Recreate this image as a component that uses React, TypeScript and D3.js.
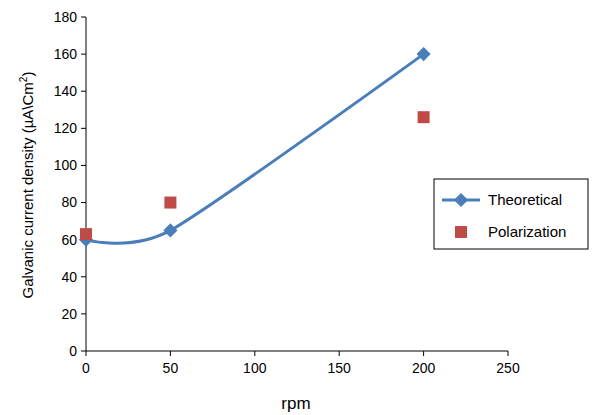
import * as d3 from "d3"

const rpm = [0, 50, 200]
const theoretical = [60, 65, 160]
const polarization = [63, 80, 126]
const xTicks = [0, 50, 100, 150, 200, 250]
const yTicks = [0, 20, 40, 60, 80, 100, 120, 140, 160, 180]

export default function App() {
  const W = 597, H = 415
  const x = d3.scaleLinear().domain([0, 250]).range([86, 508])
  const y = d3.scaleLinear().domain([0, 180]).range([351, 17])
  const line = d3
    .line<number>()
    .x((_, i) => x(rpm[i]))
    .y((d) => y(d))
    .curve(d3.curveCardinal.tension(0.3))
  const blue = "#4a7ebb"
  const red = "#be4b48"
  const font = "Liberation Sans, Arial, sans-serif"
  return (
    <svg width={W} height={H} style={{ position: "absolute", left: 0, top: 0 }} fontFamily={font}>
      <rect width={W} height={H} fill="white" />
      <line x1={x(0)} x2={x(0)} y1={y(0)} y2={y(180)} stroke="#000" />
      <line x1={x(0)} x2={x(250)} y1={y(0)} y2={y(0)} stroke="#000" />
      {yTicks.map((t) => (
        <g key={t}>
          <line x1={x(0) - 5} x2={x(0)} y1={y(t)} y2={y(t)} stroke="#000" />
          <text x={x(0) - 9} y={y(t)} dy="0.35em" textAnchor="end" fontSize={14}>{t}</text>
        </g>
      ))}
      {xTicks.map((t) => (
        <g key={t}>
          <line x1={x(t)} x2={x(t)} y1={y(0)} y2={y(0) + 5} stroke="#000" />
          <text x={x(t)} y={y(0) + 22} textAnchor="middle" fontSize={14}>{t}</text>
        </g>
      ))}
      <path d={line(theoretical) ?? ""} fill="none" stroke={blue} strokeWidth={3} />
      {theoretical.map((v, i) => (
        <rect key={i} x={-5} y={-5} width={10} height={10} fill={blue}
          transform={`translate(${x(rpm[i])},${y(v)}) rotate(45)`} />
      ))}
      {polarization.map((v, i) => (
        <rect key={i} x={x(rpm[i]) - 6} y={y(v) - 6} width={12} height={12} fill={red} />
      ))}
      <text x={296} y={409} textAnchor="middle" fontSize={17}>rpm</text>
      <text transform="translate(33,185) rotate(-90)" textAnchor="middle" fontSize={15}>
        Galvanic current density (µA\Cm<tspan dy="-6" fontSize={10}>2</tspan><tspan dy="6">)</tspan>
      </text>
      <rect x={434} y={179} width={154} height={70} fill="white" stroke="#000" />
      <line x1={442} x2={480} y1={200} y2={200} stroke={blue} strokeWidth={3} />
      <rect x={-5} y={-5} width={10} height={10} fill={blue} transform="translate(461,200) rotate(45)" />
      <text x={488} y={200} dy="0.35em" fontSize={15}>Theoretical</text>
      <rect x={455} y={226} width={12} height={12} fill={red} />
      <text x={488} y={232} dy="0.35em" fontSize={15}>Polarization</text>
    </svg>
  )
}
